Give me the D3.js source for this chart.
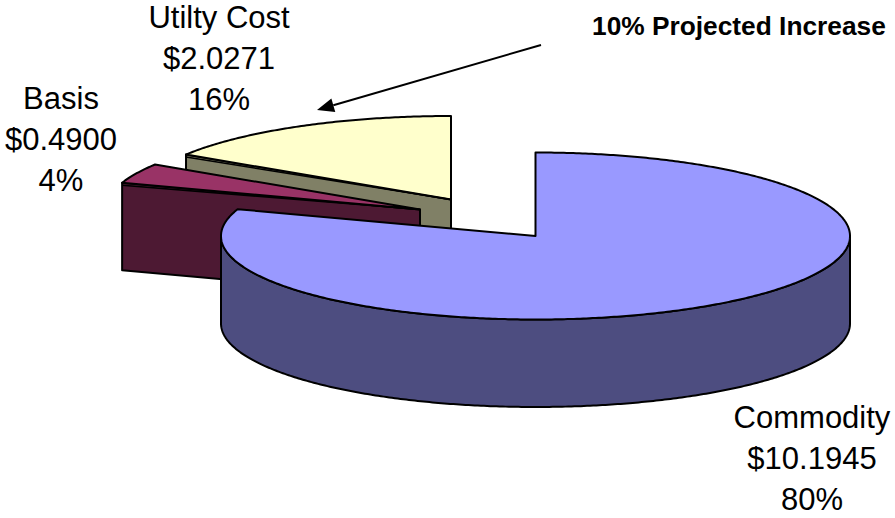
<!DOCTYPE html>
<html>
<head>
<meta charset="utf-8">
<script src="https://cdn.jsdelivr.net/npm/d3@7"></script>
<style>html,body{margin:0;padding:0;background:#fff}svg{display:block}</style>
</head>
<body>
<script>
const categories = ["Commodity", "Basis", "Utilty Cost"];
const values = [10.1945, 0.49, 2.0271];
const valueLabels = ["$10.1945", "$0.4900", "$2.0271"];
const percentLabels = ["80%", "4%", "16%"];
const topColors = ["#9999ff", "#993366", "#ffffcc"];
const sideColors = ["#4d4d80", "#4d1933", "#808066"];
const apexes = [[535.5, 236], [420, 209.5], [451, 199.5]];
const labelPositions = [[812, 428], [61, 108.5], [219, 28.2]];

const W = 895, H = 518, RX = 314.5, RY = 83.5, DEPTH = 87.5, LINE = 41;
const svg = d3.select("body").append("svg").attr("width", W).attr("height", H);

const sx = d3.scaleLinear().domain([-1, 1]).range([-RX, RX]);
const sy = d3.scaleLinear().domain([-1, 1]).range([-RY, RY]);
const slices = d3.pie().sort(null)(values);

function rim(i, a, dy = 0) {
  return [apexes[i][0] + sx(Math.sin(a)), apexes[i][1] + sy(-Math.cos(a)) + dy];
}
function arcPts(i, a0, a1, dy = 0) {
  const n = Math.max(2, Math.ceil((a1 - a0) / 0.01));
  return d3.range(n + 1).map(k => rim(i, a0 + (a1 - a0) * k / n, dy));
}
const line = d3.line();
const closed = pts => line(pts) + "Z";

const g = svg.append("g").attr("stroke", "#000").attr("stroke-width", 2).attr("stroke-linejoin", "round");

// painter's order: back slices first
[2, 1, 0].forEach(i => {
  const s = slices[i], [ax, ay] = apexes[i];
  if (i !== 0) {
    const p = rim(i, s.startAngle);
    g.append("path").attr("fill", sideColors[i])
      .attr("d", closed([[ax, ay], p, [p[0], p[1] + DEPTH], [ax, ay + DEPTH]]));
  } else {
    const a0 = Math.PI / 2, a1 = Math.PI * 1.5;
    const front = arcPts(0, a0, a1);
    const back = arcPts(0, a0, a1, DEPTH).reverse();
    g.append("path").attr("fill", sideColors[i]).attr("d", closed(front.concat(back)));
  }
  g.append("path").attr("fill", topColors[i])
    .attr("d", closed([[ax, ay]].concat(arcPts(i, s.startAngle, s.endAngle))));
  if (i !== 0) {
    const p = rim(i, s.startAngle);
    g.append("path").attr("fill", "none").attr("stroke-width", 1.5)
      .attr("d", line([[ax, ay], [p[0], p[1] + 2.5]]));
  }
});

// labels
const font = "'Liberation Sans', Arial, sans-serif";
categories.forEach((c, i) => {
  const [x, y] = labelPositions[i];
  const t = svg.append("text").attr("text-anchor", "middle")
    .attr("font-family", font).attr("font-size", 31).attr("fill", "#000");
  [c, valueLabels[i], percentLabels[i]].forEach((txt, k) => {
    t.append("tspan").attr("x", x).attr("y", y + k * LINE).text(txt);
  });
});

svg.append("text").attr("x", 592).attr("y", 35)
  .attr("font-family", font).attr("font-weight", "bold").attr("font-size", 26.3).attr("fill", "#000")
  .text("10% Projected Increase");

// annotation arrow
const from = [541, 45], tip = [317, 110];
const ang = Math.atan2(tip[1] - from[1], tip[0] - from[0]);
const back = 17, half = 7;
const bx = tip[0] - back * Math.cos(ang), by = tip[1] - back * Math.sin(ang);
svg.append("path").attr("fill", "none").attr("stroke", "#000").attr("stroke-width", 2)
  .attr("d", line([from, [bx, by]]));
svg.append("path").attr("fill", "#000").attr("d", closed([
  tip,
  [bx - half * Math.sin(ang), by + half * Math.cos(ang)],
  [bx + half * Math.sin(ang), by - half * Math.cos(ang)]
]));
</script>
</body>
</html>
